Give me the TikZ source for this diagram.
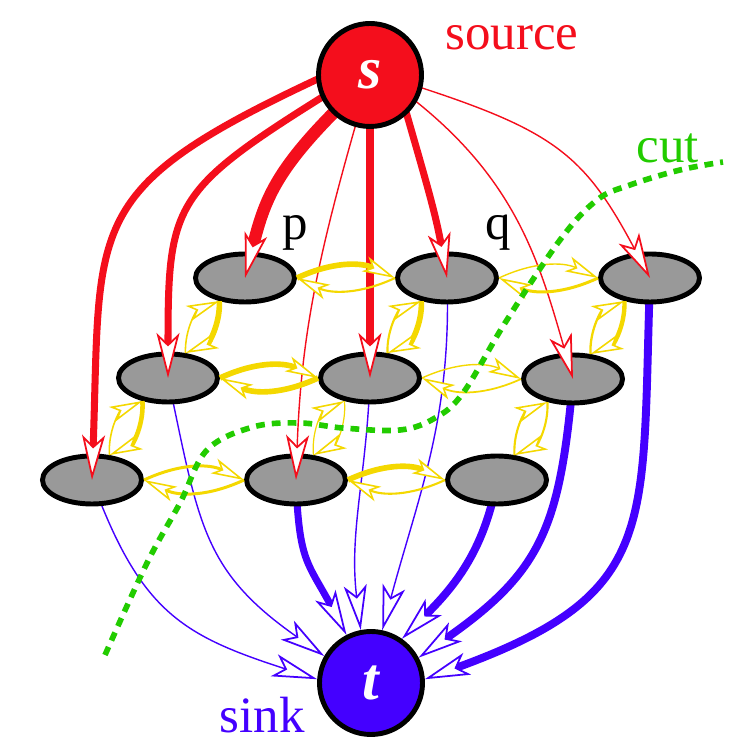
\documentclass[tikz,border=0pt]{standalone}
\usepackage{fontspec}
\setmainfont{Liberation Serif}
\usetikzlibrary{arrows.meta,shapes.geometric}

\definecolor{srcred}{HTML}{F40E1C}
\definecolor{sinkblue}{HTML}{4400FF}
\definecolor{flowyellow}{HTML}{F4D800}
\definecolor{cutgreen}{HTML}{22CC00}
\definecolor{cellgray}{HTML}{999999}

\pgfdeclarelayer{back}
\pgfdeclarelayer{front}
\pgfsetlayers{back,main,front}

\tikzset{
  cell/.style={ellipse, draw=black, line width=2.8pt, fill=cellgray,
    minimum width=1.98cm, minimum height=0.96cm, inner sep=0pt},
  term/.style={circle, draw=black, line width=2.8pt, minimum size=2.06cm,
    inner sep=0pt, text=white, font=\fontsize{34}{36}\selectfont\bfseries\itshape},
  tag/.style={font=\fontsize{29}{32}\selectfont, anchor=base, inner sep=0pt},
  bighead/.style={-{Stealth[length=0.9cm,width=0.46cm,inset=0.22cm,fill=white,line width=1pt]}},
  smallhead/.style={-{Stealth[length=0.66cm,width=0.32cm,inset=0.16cm,fill=white,line width=0.9pt]}},
  fromsrc/.style={bighead, srcred, shorten <=-4pt},
  tosink/.style={bighead, sinkblue},
  residual/.style={smallhead, flowyellow},
}

\begin{document}
\begin{tikzpicture}
\useasboundingbox (0,0) rectangle (14.74,15.02);

% the grid of pixels
\foreach \name/\x/\y in {n11/4.90/9.46, n12/8.94/9.46, n13/13.00/9.46,
                         n21/3.36/7.46, n22/7.40/7.46, n23/11.46/7.44,
                         n31/1.84/5.42, n32/5.92/5.42, n33/9.94/5.42}
  \node[cell] (\name) at (\x,\y) {};

\begin{pgfonlayer}{front}
\node[term, fill=srcred] (s) at (7.40,13.52) {s};
\node[term, fill=sinkblue] (t) at (7.42,1.36) {t};
\end{pgfonlayer}

\node[tag, srcred] (source) at (10.24,14.02) {source};
\node[tag, sinkblue] (sink) at (5.24,0.36) {sink};
\node[tag, cutgreen] (cutname) at (13.36,11.76) {cut};
\node[tag] (p) at (5.90,10.22) {p};
\node[tag] (q) at (9.96,10.22) {q};

% links to the sink, under the pixels
\begin{pgfonlayer}{back}
\foreach \src/\oa/\ea/\ia/\loose/\w in {n31/-70/176/162/1.2/0.8pt, n21/-78/150/145/1.2/0.8pt,
    n32/-88/117/118/1.3/4pt, n22/-92/101/97/1/0.8pt, n12/-88/78/75/1/0.8pt,
    n33/-100/55/45/1/4.5pt, n23/-95/28/35/1.2/4.5pt, n13/-92/4/20/1.4/4.5pt}
  \draw[tosink, line width=\w] (\src.center) to[out=\oa, in=\ia, looseness=\loose] (t.\ea);
\end{pgfonlayer}

% links from the source
\foreach \sa/\oa/\dst/\ia/\loose/\w in {185/205/n31/88/1.45/4pt, 205/212/n21/90/1.4/4pt,
    226/225/n11/76/1.1/7pt, 254/254/n32/88/1/0.8pt, 270/270/n22/90/1/4.5pt,
    -47/-74/n12/100/1/4pt, -30/-38/n23/106/1/0.8pt, -14/-18/n13/118/1.2/0.8pt}
  \draw[fromsrc, line width=\w] (s.\sa) to[out=\oa, in=\ia, looseness=\loose] (\dst.center);

% neighbour links, both ways
\foreach \a/\b/\wf/\wb in {n11/n12/3.2pt/1.2pt, n12/n13/0.8pt/1.7pt, n21/n22/3.2pt/3.2pt,
    n22/n23/0.8pt/1pt, n31/n32/1.7pt/1.7pt, n32/n33/3.2pt/1.2pt} {
  \draw[residual, line width=\wf] (\a.east) to[bend left=25] (\b.west);
  \draw[residual, line width=\wb] (\b.west) to[bend left=25] (\a.east);
}
\foreach \a/\b/\wf/\wb in {n11/n21/3.2pt/0.9pt, n12/n22/3.2pt/1.2pt, n13/n23/2.5pt/1.3pt,
    n21/n31/2.6pt/0.9pt, n22/n32/0.7pt/0.7pt, n23/n33/1.2pt/1.2pt} {
  \draw[residual, line width=\wf] (\a.222) to[bend left=35] (\b.55);
  \draw[residual, line width=\wb] (\b.55) to[bend left=35] (\a.222);
}

% the cut
\draw[cutgreen, line width=3.2pt, dash pattern=on 5pt off 4pt]
  plot[smooth, tension=0.6] coordinates {(2.10,1.92) (2.94,3.76) (3.60,4.96) (4.14,6.02)
    (5.06,6.48) (6.00,6.56) (6.86,6.46) (8.00,6.42) (8.70,6.66) (9.26,7.16) (10.10,8.56)
    (11.20,10.22) (11.94,11.02) (12.60,11.32) (13.60,11.62) (14.46,11.78)};
\end{tikzpicture}
\end{document}
